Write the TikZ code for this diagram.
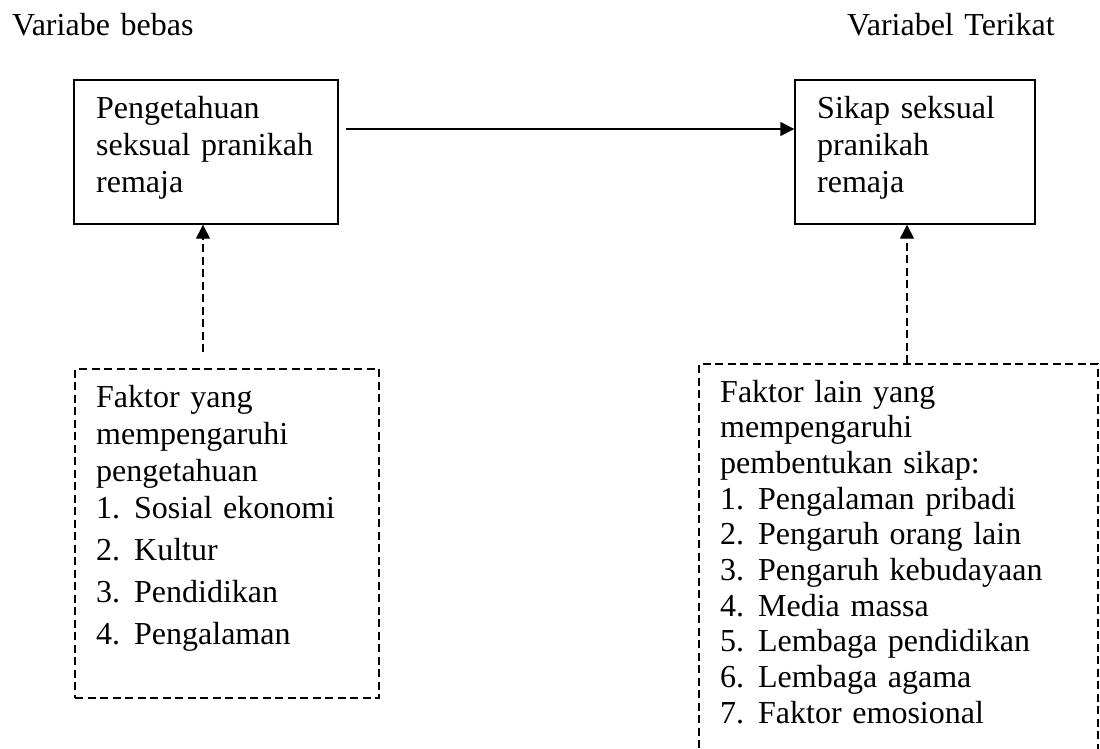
\documentclass[tikz,border=0pt]{standalone}
\usepackage{fontspec}
\setmainfont{Liberation Serif}
\usetikzlibrary{arrows.meta}
\newcommand\lnum[1]{\makebox[38pt][l]{#1}}
\begin{document}
\begin{tikzpicture}[x=1pt,y=-1pt,
  solidbox/.style={draw, line width=1.4pt, rectangle, inner sep=0pt},
  dashbox/.style={draw, line width=1.4pt, dash pattern=on 8pt off 4.5pt, rectangle, inner sep=0pt},
  txt/.style={anchor=base west, inner sep=0pt, text width=#1, align=left, font=\fontsize{32}{37}\selectfont},
  conn/.style={line width=1.4pt, -{Triangle[length=14pt,width=14pt]}},
  dconn/.style={conn, dash pattern=on 8pt off 4.5pt}
]
\useasboundingbox (0,0) rectangle (1100,748);
\clip (0,0) rectangle (1100,748);

\node[txt=300pt] (h1) at (12,35) {Variabe bebas};
\node[txt=250pt] (h2) at (847,35) {Variabel Terikat};

\node[solidbox, minimum width=264pt, minimum height=144pt] (lb) at (206,152) {};
\node[txt=240pt] (lbt) at (96,118) {Pengetahuan\\ seksual pranikah\\ remaja};

\node[solidbox, minimum width=240pt, minimum height=144pt] (rb) at (915,152) {};
\node[txt=215pt] (rbt) at (817,118) {Sikap seksual\\ pranikah\\ remaja};

\node[dashbox, minimum width=304pt, minimum height=329pt] (ldb) at (227,533.5) {};
\node[txt=280pt] (ldbt) at (96,407) {Faktor yang\\ mempengaruhi\\ pengetahuan\\
\lnum{1.}Sosial ekonomi\\[5pt]
\lnum{2.}Kultur\\[5pt]
\lnum{3.}Pendidikan\\[5pt]
\lnum{4.}Pengalaman};

\node[dashbox, minimum width=399pt, minimum height=426pt] (rdb) at (898.5,577) {};
\node[txt=370pt, font=\fontsize{32}{35.7}\selectfont] (rdbt) at (720,402) {Faktor lain yang\\ mempengaruhi\\ pembentukan sikap:\\
\lnum{1.}Pengalaman pribadi\\
\lnum{2.}Pengaruh orang lain\\
\lnum{3.}Pengaruh kebudayaan\\
\lnum{4.}Media massa\\
\lnum{5.}Lembaga pendidikan\\
\lnum{6.}Lembaga agama\\
\lnum{7.}Faktor emosional};

\draw[conn] ([xshift=7pt,yshift=23pt]lb.east) -- ([yshift=23pt]rb.west);
\draw[dconn] ([xshift=-24pt,yshift=16pt]ldb.north) -- ([xshift=-3pt]lb.south);
\draw[dconn] ([xshift=8.5pt]rdb.north) -- ([xshift=-8pt]rb.south);
\end{tikzpicture}
\end{document}
